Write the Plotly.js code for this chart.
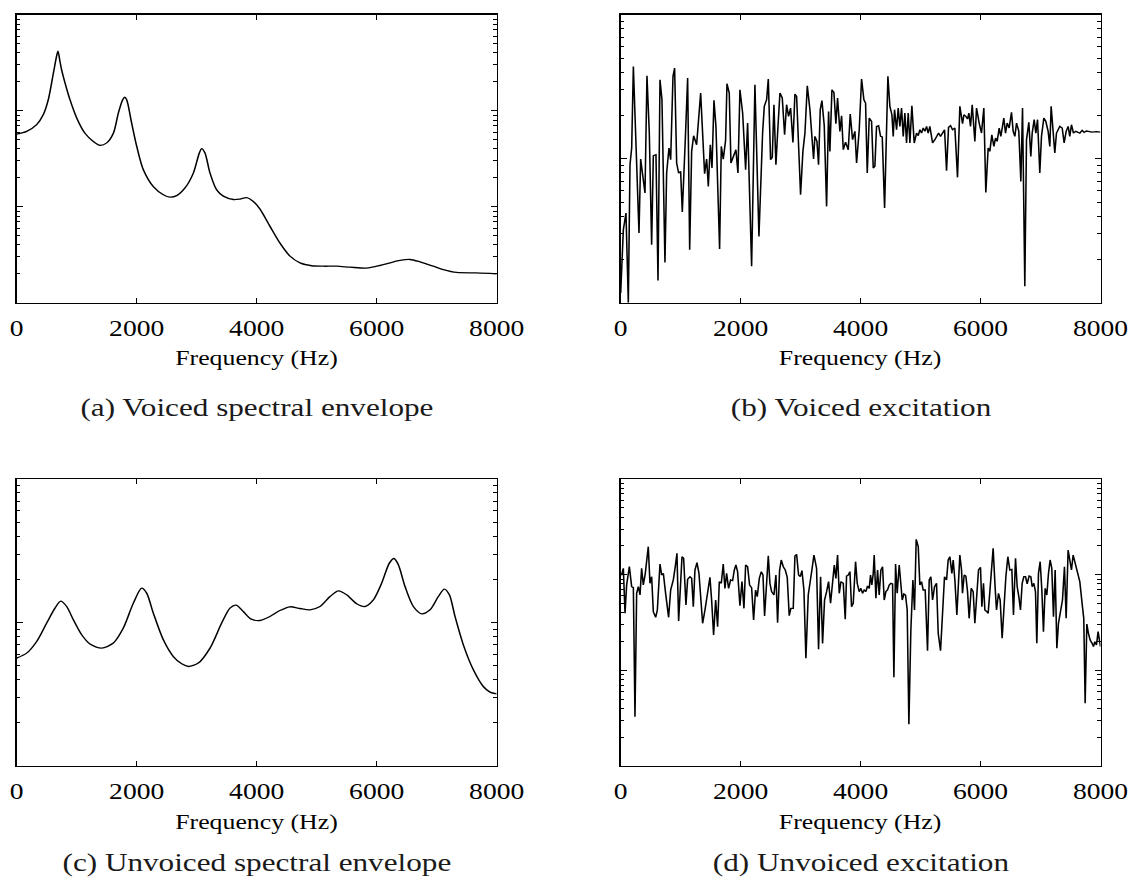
<!DOCTYPE html>
<html>
<head>
<meta charset="utf-8">
<script src="https://cdn.plot.ly/plotly-3.0.1.min.js"></script>
<style>
  html, body { margin: 0; padding: 0; background: #fff; overflow: hidden; }
  /* the figure is laid out narrow and widened horizontally */
  #fig { width: 943px; height: 883px; transform: scaleX(1.2); transform-origin: 0 0; }
</style>
</head>
<body>
<div id="fig"></div>
<script>
// ---- shared axis values ----
const freqTicks = [0, 2000, 4000, 6000, 8000];
const captions = [
  "(a) Voiced spectral envelope",
  "(b) Voiced excitation",
  "(c) Unvoiced spectral envelope",
  "(d) Unvoiced excitation"
];
const xLabel = "Frequency (Hz)";

// ---- (a) voiced spectral envelope, level in dB ----
const voicedEnvFreq = [0,166,333,444,527,611,666,688,722,749,805,
  888,1000,1138,1277,1388,1500,1611,1694,1766,1800,
  1833,1916,2000,2111,2277,2444,2555,2666,2805,2944,
  3044,3083,3138,3222,3333,3444,3611,3722,3833,3944,
  4055,4222,4388,4555,4722,4916,5111,5333,5555,
  5833,6000,6222,6388,6555,6722,6944,7111,7333,7666,8000];
const voicedEnvDb = [-24.9,-24.3,-22.9,-20.8,-17.7,-12.2,-8.6,-7.6,-9.8,-11.5,-14.2,
  -17.7,-21.5,-24.7,-26.4,-27.2,-26.7,-24.7,-20.5,-17.7,-17.2,
  -17.7,-22.6,-27.4,-32.3,-35.8,-37.5,-38.0,-37.7,-36.1,-33.0,
  -28.8,-27.9,-28.8,-33.0,-36.5,-37.8,-38.5,-38.4,-38.1,-38.9,
  -40.5,-44.1,-47.6,-50.3,-51.7,-52.3,-52.4,-52.4,-52.6,
  -52.8,-52.4,-51.7,-51.2,-51.0,-51.5,-52.4,-53.1,-53.7,-53.8,-54.0];

// ---- (b) voiced excitation, level in dB ----
const voicedExcFreq = [0,44,88,127,155,183,211,255,305,333,
  366,405,438,477,516,544,588,622,655,688,
  738,766,805,833,872,899,933,966,999,1027,
  1077,1116,1150,1183,1216,1266,1333,1366,1399,1433,
  1461,1494,1522,1555,1588,1649,1677,1710,1749,1772,
  1810,1838,1877,1921,1955,1988,2033,2083,2116,2183,
  2238,2305,2366,2394,2433,2461,2499,2527,2555,2588,
  2616,2655,2694,2733,2766,2799,2833,2872,2905,2933,
  2999,3038,3072,3111,3155,3216,3238,3272,3299,3327,
  3355,3394,3433,3466,3488,3522,3555,3588,3616,3655,
  3683,3711,3749,3794,
  3827,3866,3905,3933,3977,4016,4055,4083,4111,4144,
  4183,4211,4238,4266,4300,4333,4361,4400,4455,4488,
  4522,4544,4566,4600,4627,4655,4683,4711,4738,4766,
  4794,4822,4855,4894,4933,4961,4988,5016,5044,5072,
  5100,5127,5155,5200,5238,5266,5300,5333,5366,5400,
  5433,5466,5500,5533,5572,5616,5655,5700,5722,5755,
  5783,5805,5833,5861,5905,5933,5977,6016,6055,6088,
  6127,6155,6188,6222,6250,6277,6311,6338,6366,6388,
  6416,6444,6477,6516,6544,6572,6600,6638,6672,6700,
  6738,6766,6805,6838,6861,6894,6922,6950,6988,7016,
  7055,7088,7127,7155,7177,7211,7238,7266,7294,7322,
  7361,7394,7427,7461,7488,7516,7549,7588,7627,7655,
  7694,7727,7766,7811,7861,7933,8000];
const voicedExcDb = [-18.66,-9.86,-7.55,-20,-0.83,1.48,12.82,2.64,-10.32,-0.05,
  -1.99,-4.77,11.53,3.56,-11.94,0.42,0.56,-16.9,10.97,8.19,
  -14.4,-1.99,1.48,-0.14,11.44,12.59,-0.6,-1.99,-1.76,-7.41,
  2.64,11.2,-12.64,1.02,3.19,1.94,9.12,2.64,-2.08,-0.05,
  -3.84,1.94,-1.3,8.1,4.49,-12.55,1.71,-0.05,2.55,10.42,
  9.12,-0.6,0.19,1.25,-1.99,9.58,6.34,-1.53,4.95,-14.95,
  10.28,-10.79,3.56,7.27,8.19,11.06,-0.14,0.19,7.5,-0.83,
  3.56,9.12,8.43,3.33,7.5,5.88,7.04,2.27,8.98,8.66,
  -5.0,1.02,3.56,10.14,6.81,-0.05,3.1,2.41,-0.83,6.81,
  8.06,4.58,-6.62,6.57,1.02,9.58,9.21,4.86,8.43,3.8,
  5.97,1.25,2.31,1.25,
  6.2,2.64,3.8,-0.6,4.03,11.06,8.19,7.73,-1.99,5.65,
  5.19,-1.3,-1.06,4.49,4.58,3.1,3.01,-6.85,11.44,7.27,
  6.11,3.1,6.81,4.03,7.04,4.49,7.04,3.1,6.34,2.18,
  6.34,2.18,7.36,2.18,3.56,3.19,4.03,3.56,4.26,3.8,
  4.49,3.56,4.49,2.18,2.64,3.1,3.56,3.1,3.56,4.03,
  -1.67,4.35,4.58,4.03,4.26,-2.59,7.27,4.86,6.11,5.88,
  5.51,6.34,4.49,7.5,2.41,7.04,4.95,3.56,7.04,-4.68,
  1.48,1.02,3.33,1.71,2.87,2.41,4.26,3.1,4.49,5.65,
  3.56,4.95,4.26,6.44,3.8,3.1,4.95,3.8,-3.15,7.04,
  -17.73,2.64,5.05,0.32,3.56,5.42,3.56,5.42,-1.99,3.1,
  5.65,5.19,3.8,1.71,7.27,2.87,0.79,3.56,4.03,4.49,
  4.26,2.18,3.8,4.49,3.1,4.72,3.56,3.8,3.66,3.56,
  3.94,3.66,3.84,3.75,3.7,3.75,3.7];

// ---- (c) unvoiced spectral envelope, level in dB ----
const unvoicedEnvFreq = [0,166,333,500,638,733,833,944,1083,1222,
  1416,1611,1777,1944,2083,2166,2277,2444,2611,2750,
  2861,3027,3222,3416,3555,3655,3777,3900,4055,4222,
  4388,4555,4722,4888,5055,5222,5361,5500,5666,5805,
  5944,6083,6211,6288,6361,6472,6611,6750,6888,7027,
  7127,7211,7305,7444,7611,7777,7888,8000];
const unvoicedEnvDb = [-4.96,-4.27,-2.65,-0.08,2.0,2.98,2.23,0.38,-1.71,-3.01,
  -3.57,-2.87,-0.78,2.70,4.79,4.10,1.31,-2.41,-4.74,-5.76,
  -6.13,-5.66,-3.57,-0.08,2.0,2.42,1.53,0.5,0.28,0.84,
  1.67,2.19,1.95,1.77,2.23,3.62,4.42,3.86,2.61,2.23,
  3.16,5.49,8.28,8.92,8.04,5.02,2.23,1.21,1.77,3.62,
  4.65,3.86,0.84,-3.11,-6.59,-8.92,-9.70,-9.94];

// ---- (d) unvoiced excitation, level in dB ----
const unvoicedExcFreq = [0,16,44,72,99,144,183,211,238,266,
  294,322,349,377,410,460,488,516,544,583,
  611,655,683,711,749,799,833,877,910,938,
  966,988,1022,1049,1088,1116,1155,1183,1211,1238,
  1272,1305,1333,1366,1405,1444,1488,1516,1549,1583,
  1616,1644,1677,1710,1738,1766,1799,1833,1866,1894,
  1921,1949,1988,2022,2055,2083,2116,2149,2183,2216,
  2249,2277,2311,2344,2372,2399,2433,2461,2488,2516,
  2555,2588,2616,2649,2677,2711,2744,2777,2810,2838,
  2877,2905,2933,2966,2994,3022,3055,3088,3127,3155,
  3188,3222,3266,3299,3333,3366,3399,3433,3466,3499,
  3533,3561,3588,3616,3644,3672,3711,3744,3766,3794,
  3822,3849,3877,3916,3944,3977,4005,4033,4060,4088,
  4116,4144,4166,4188,4211,4227,4255,4283,4310,4338,
  4366,4394,4422,4449,4477,4505,4533,4555,4583,4610,
  4644,4666,4694,4722,4749,4777,4805,4838,4872,4899,
  4927,4961,4988,5016,5044,5077,5116,5144,5172,5200,
  5233,5266,5294,5333,5366,5399,5433,5460,5488,5522,
  5544,5572,5605,5627,5655,5683,5699,5727,5755,5783,
  5810,5844,5877,5905,5933,5966,5999,6022,6049,6072,
  6105,6127,6155,6183,6210,6244,6266,6299,6327,6360,
  6394,6422,6455,6488,6522,6549,6583,6611,6638,6666,
  6694,6722,6750,6777,6810,6838,6861,6888,6916,6938,
  6966,6994,7022,7049,7077,7105,7133,7160,7188,7216,
  7244,7272,7299,7333,7366,7399,7427,7460,7488,7516,
  7544,7577,7616,7655,7699,7721,7744,7772,7799,7827,
  7860,7883,7905,7933,7960,8000];
const unvoicedExcDb = [0.28,-0.07,1.32,-8.08,-2.16,1.67,-2.51,-2.72,-29.69,-3.9,
  -2.51,-4.25,1.32,-2.16,0.28,5.85,-1.81,-0.42,-7.74,-8.92,
  -7.39,2.23,-0.07,0.28,-3.9,-8.92,-3.21,-1.1,1.67,4.46,
  -9.69,-2.51,3.76,3.42,-6.34,-0.98,-0.42,-0.77,-6.69,0.97,
  2.51,0.28,-3.9,-10.17,-7.39,-3.9,-0.56,-5.3,-12.61,-5.3,
  -10.87,-1.46,-1.81,2.23,-2.86,0.28,-2.86,-1.1,-1.25,0.97,
  2.02,0.63,-6.48,-1.46,-7.04,2.02,1.67,-2.16,-2.72,-9.48,
  -3.21,-4.6,-0.77,0.63,-0.07,-8.64,-0.07,3.97,-1.81,-3.55,
  -4.25,-0.07,-10.03,0.84,3.07,1.67,0.97,-0.56,-8.57,-7.04,
  -7.04,3.9,4.25,-0.07,-0.42,0.84,-3.21,-17.49,-4.25,-2.16,
  0.97,4.11,1.32,-15.61,-0.42,-14.36,-5.3,-3.55,-1.46,-5.99,
  -1.81,2.02,-0.77,4.11,-3.9,-1.46,-1.81,-9.34,-0.28,-0.07,
  0.63,-6.69,-5.99,2.72,-1.81,-3.55,-2.86,-3.9,-3.21,-3.55,
  -2.37,-2.86,-0.07,-2.16,0.28,4.11,-4.95,0.97,-4.25,0.97,
  1.67,-5.3,-3.55,-3.21,-2.16,-1.81,-1.95,-21.46,2.23,-3.9,
  2.02,-1.1,-5.3,-4.04,-4.25,-7.39,-31.29,-11.57,-1.1,-7.39,
  7.39,5.85,-2.16,-1.46,-3.21,-3.21,-15.89,-1.1,-0.42,-5.3,
  -2.51,-1.81,-12.26,-15.89,-7.39,-0.42,-1.1,3.07,3.76,0.28,
  3.07,-1.1,-8.43,-3.55,4.11,0.97,-3.9,-0.07,-0.28,-3.55,
  -9.13,-2.86,-3.55,-10.17,-4.25,0.97,1.53,-6.69,-1.81,-7.39,
  -7.74,-8.08,-3.55,0.28,5.5,-2.86,-7.39,-3.9,-5.3,-13.31,
  -4.6,-0.42,3.76,0.97,1.11,-8.43,3.42,-2.51,-4.6,-7.39,
  -1.81,-0.42,-0.42,-1.95,-0.28,-0.42,-2.51,-1.81,-3.55,-14.36,
  0.28,2.72,-3.21,-11.92,-2.86,-4.25,0.28,3.07,1.32,-8.78,
  0.97,-15.4,-10.17,-8.08,-5.3,1.67,-9.13,5.16,3.07,0.97,
  4.11,2.37,0.97,-1.46,-6.69,-9.13,-26.9,-10.31,-12.26,-13.66,
  -14.36,-15.05,-14.01,-14.71,-11.92,-15.05];

// ---- drawing ----
const W = 943, H = 883, SX = 1.2;          // layout size and horizontal widening
const SERIF = '"Liberation Serif", "Times New Roman", Times, serif';
const cols = [[16.7, 496.7], [620.7, 1100.5]];   // frame edges in final pixels
const rows = [[14.7, 302.7], [479, 766]];

const toAmp = db => db.map(v => Math.pow(10, v / 20));
const xDom = c => [cols[c][0] / SX / W, cols[c][1] / SX / W];
const yDom = r => [1 - rows[r][1] / H, 1 - rows[r][0] / H];
const xMid = c => (cols[c][0] + cols[c][1]) / 2 / SX / W;
const yAt = px => 1 - px / H;

function xAxis(c, r, anchor) {
  return {
    domain: xDom(c), anchor: anchor, range: [0, 8000],
    tickmode: 'array', tickvals: freqTicks, ticktext: freqTicks.map(String),
    ticks: 'inside', ticklen: 5, tickwidth: 1, tickcolor: '#000',
    mirror: 'allticks', showline: true, linecolor: '#000', linewidth: 1.3,
    showgrid: false, zeroline: false, fixedrange: true,
    tickfont: { family: SERIF, size: 23, color: '#000' },
    ticklabelstandoff: 4
  };
}

function yAxis(r, c, anchor, lo, hi) {
  const major = [], minor = [];
  for (let k = lo; k <= hi; k++) {
    major.push(Math.pow(10, k));
    if (k < hi) for (let m = 2; m <= 9; m++) minor.push(m * Math.pow(10, k));
  }
  return {
    domain: yDom(r), anchor: anchor, type: 'log', range: [lo, hi],
    tickmode: 'array', tickvals: major, showticklabels: false,
    ticks: 'inside', ticklen: 5, tickwidth: 1, tickcolor: '#000',
    minor: { tickmode: 'array', tickvals: minor, ticks: 'inside', ticklen: 3,
             tickwidth: 1, tickcolor: '#000', showgrid: false },
    mirror: 'allticks', showline: true, linecolor: '#000', linewidth: 1.3,
    showgrid: false, zeroline: false, fixedrange: true
  };
}

const lineStyle = { color: '#000', width: 1.3 };
const smooth = Object.assign({ shape: 'spline', smoothing: 0.8 }, lineStyle);
const traces = [
  { x: voicedEnvFreq, y: toAmp(voicedEnvDb), xaxis: 'x', yaxis: 'y',
    mode: 'lines', line: smooth },
  { x: voicedExcFreq, y: toAmp(voicedExcDb), xaxis: 'x2', yaxis: 'y2',
    mode: 'lines', line: lineStyle },
  { x: unvoicedEnvFreq, y: toAmp(unvoicedEnvDb), xaxis: 'x3', yaxis: 'y3',
    mode: 'lines', line: smooth },
  { x: unvoicedExcFreq, y: toAmp(unvoicedExcDb), xaxis: 'x4', yaxis: 'y4',
    mode: 'lines', line: lineStyle }
];

const panels = [[0, 0], [1, 0], [0, 1], [1, 1]];   // [column, row]
const labelY = [358, 822];
const captionY = [407, 862];
const annotations = [];
panels.forEach(([c, r], i) => {
  annotations.push({
    xref: 'paper', yref: 'paper', x: xMid(c), y: yAt(labelY[r]),
    xanchor: 'center', yanchor: 'middle', showarrow: false, text: xLabel,
    font: { family: SERIF, size: 21.5, color: '#000' }
  });
  annotations.push({
    xref: 'paper', yref: 'paper', x: xMid(c), y: yAt(captionY[r]),
    xanchor: 'center', yanchor: 'middle', showarrow: false, text: captions[i],
    font: { family: SERIF, size: 26, color: '#1a1a1a' }
  });
});

const layout = {
  width: W, height: H, margin: { l: 0, r: 0, t: 0, b: 0 },
  paper_bgcolor: '#fff', plot_bgcolor: '#fff', showlegend: false,
  xaxis: xAxis(0, 0, 'y'),   yaxis: yAxis(0, 0, 'x', -3, 0),
  xaxis2: xAxis(1, 0, 'y2'), yaxis2: yAxis(0, 1, 'x2', -1, 1),
  xaxis3: xAxis(0, 1, 'y3'), yaxis3: yAxis(1, 0, 'x3', -1, 1),
  xaxis4: xAxis(1, 1, 'y4'), yaxis4: yAxis(1, 1, 'x4', -2, 1),
  annotations: annotations
};

Plotly.newPlot('fig', traces, layout, { staticPlot: true, displayModeBar: false });
</script>
</body>
</html>
